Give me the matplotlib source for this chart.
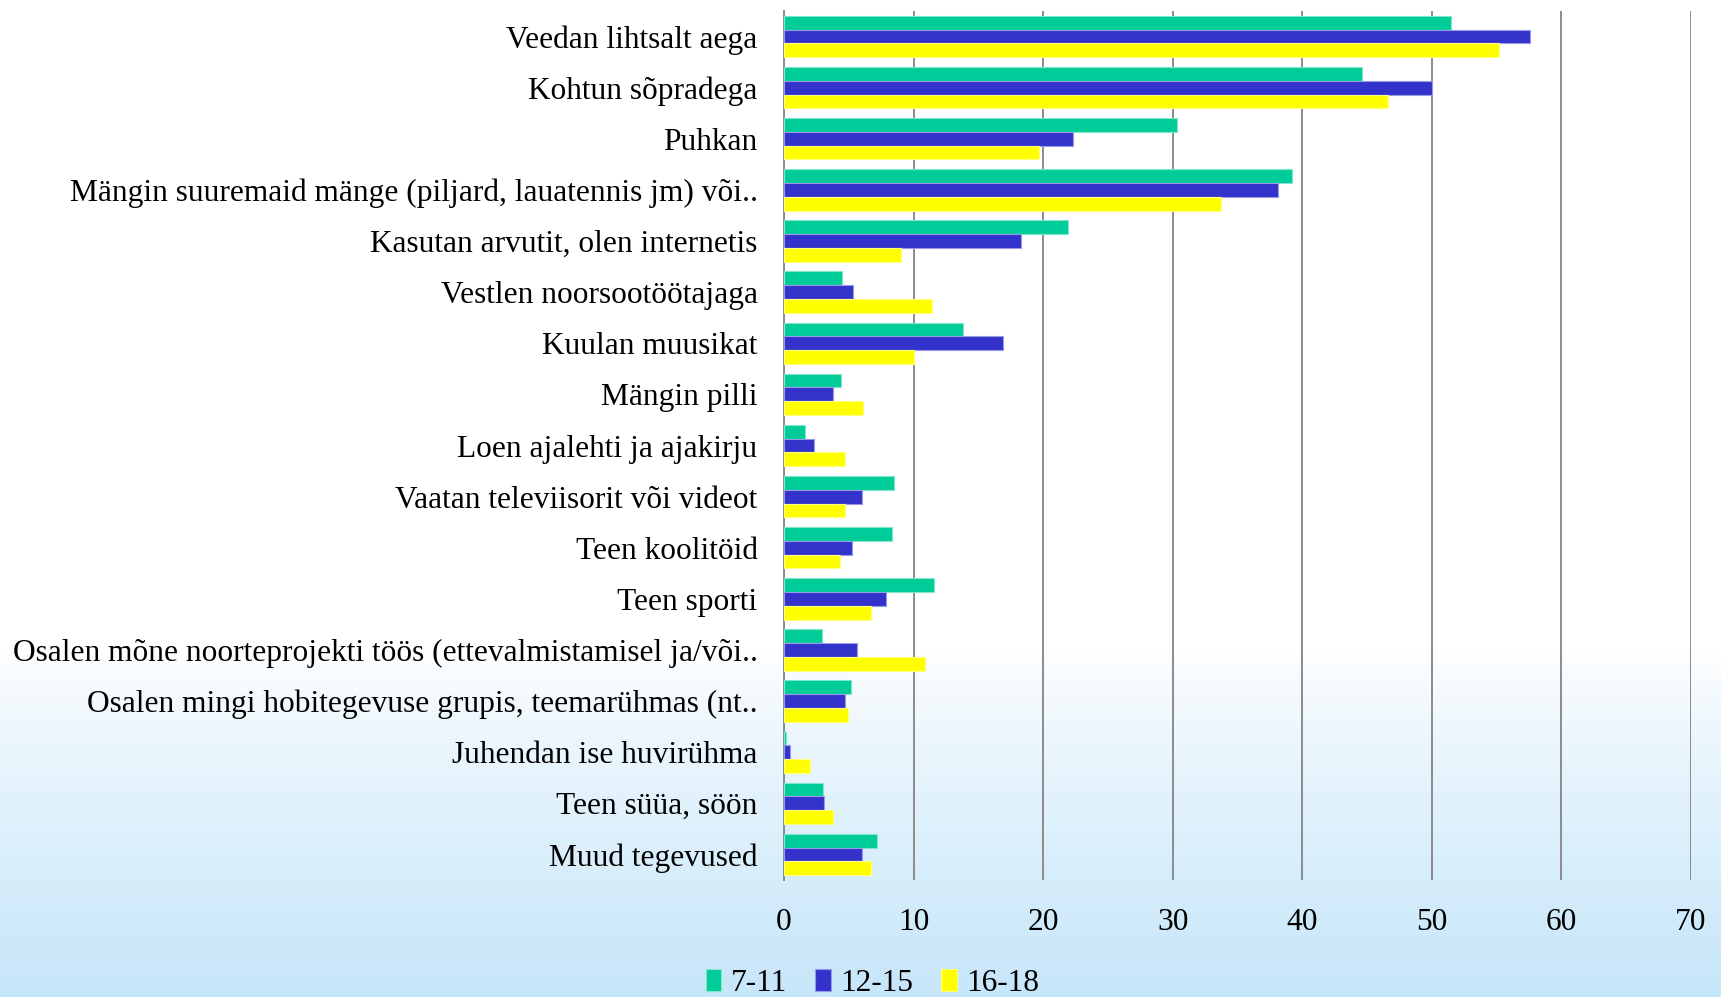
import numpy as np
import matplotlib
matplotlib.use("Agg")
import matplotlib.pyplot as plt
from matplotlib.colors import to_rgb

# andmed (loetud pildilt)
categories = [
    "Veedan lihtsalt aega",
    "Kohtun sõpradega",
    "Puhkan",
    "Mängin suuremaid mänge (piljard, lauatennis jm) või..",
    "Kasutan arvutit, olen internetis",
    "Vestlen noorsootöötajaga",
    "Kuulan muusikat",
    "Mängin pilli",
    "Loen ajalehti ja ajakirju",
    "Vaatan televiisorit või videot",
    "Teen koolitöid",
    "Teen sporti",
    "Osalen mõne noorteprojekti töös (ettevalmistamisel ja/või..",
    "Osalen mingi hobitegevuse grupis, teemarühmas (nt..",
    "Juhendan ise huvirühma",
    "Teen süüa, söön",
    "Muud tegevused",
]
series_names = ["7-11", "12-15", "16-18"]
v_7_11 = [51.5, 44.6, 30.3, 39.2, 21.9, 4.5, 13.8, 4.4, 1.6, 8.5, 8.3, 11.55, 2.9, 5.15, 0.15, 3.0, 7.2]
v_12_15 = [57.6, 50.0, 22.3, 38.1, 18.3, 5.35, 16.9, 3.8, 2.3, 6.0, 5.25, 7.9, 5.6, 4.7, 0.43, 3.1, 6.0]
v_16_18 = [55.2, 46.6, 19.7, 33.7, 9.0, 11.4, 10.0, 6.1, 4.7, 4.7, 4.3, 6.7, 10.9, 4.95, 2.0, 3.8, 6.75]
colors = ["#00CC99", "#3333CC", "#FFFF00"]
xticks = [0, 10, 20, 30, 40, 50, 60, 70]

plt.rcParams['font.family'] = ['Liberation Serif', 'DejaVu Serif']

fig = plt.figure(figsize=(17.21, 9.97), dpi=100)

# taust: valge -> helesinine
bg = fig.add_axes([0, 0, 1, 1], zorder=-10)
rows = 997
t = np.clip((np.arange(rows) - 650) / (rows - 650), 0, 1) ** 0.8
top = np.array(to_rgb("#FFFFFF"))
bot = np.array(to_rgb("#C6E6F9"))
grad = top[None, :] * (1 - t[:, None]) + bot[None, :] * t[:, None]
bg.imshow(grad[:, None, :], aspect="auto", extent=[0, 1, 0, 1])
bg.axis("off")

ax = fig.add_axes([784 / 1721, 1 - 880 / 997, (1691 - 784) / 1721, (880 - 11) / 997])
ax.set_facecolor("none")

y = np.arange(len(categories))
h = 0.27
data = [v_7_11, v_12_15, v_16_18]
for i, (vals, c, name) in enumerate(zip(data, colors, series_names)):
    edge = tuple(np.array(to_rgb(c)) * 0.5 + 0.5)
    ax.barh(y + (i - 1) * h, vals, height=h, color=c, edgecolor=edge,
            linewidth=0.8, label=name, zorder=3)

ax.set_ylim(len(categories) - 0.5, -0.5)
ax.set_xlim(0, 70)
ax.set_xticks(xticks)
ax.set_yticks(y)
ax.set_yticklabels(categories, fontsize=22.6)
ax.tick_params(axis="both", length=0, labelsize=22.6)
ax.tick_params(axis="y", pad=19)
ax.tick_params(axis="x", pad=20)
ax.grid(axis="x", color="#8C8C8C", linewidth=1.4, zorder=0)
for s in ["top", "right", "bottom"]:
    ax.spines[s].set_visible(False)
ax.spines["left"].set_color("#8C8C8C")
ax.spines["left"].set_linewidth(1.4)

fig.legend(loc="center", bbox_to_anchor=(0.507, 0.014), ncol=3, frameon=False,
           fontsize=22.6, handlelength=0.5, handleheight=0.7, handletextpad=0.3,
           columnspacing=0.9)

fig.savefig("out.png", dpi=100)
